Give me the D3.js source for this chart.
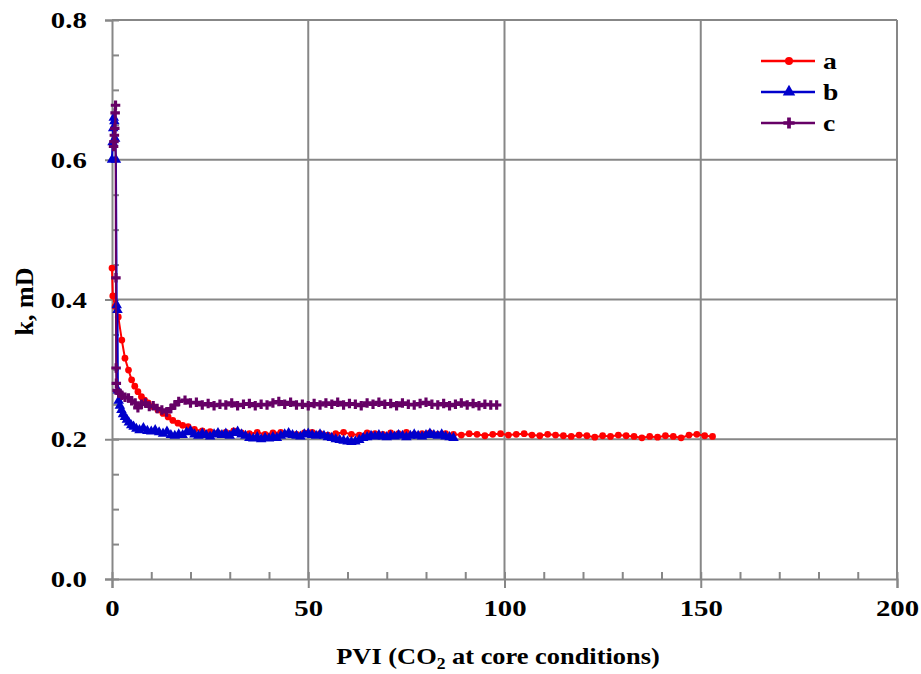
<!DOCTYPE html>
<html>
<head>
<meta charset="utf-8">
<script src="https://cdn.jsdelivr.net/npm/d3@7"></script>
<style>
  html, body { margin: 0; padding: 0; background: #ffffff; }
  svg { display: block; }
</style>
</head>
<body>
<svg id="chart" width="921" height="674"></svg>
<script>
// series data: [PVI, k (mD)]
const seriesA = [
  [0, 0.445], [0.2, 0.405], [0.8, 0.39], [1.6, 0.375], [2.5, 0.342], [3.3, 0.316], [4.2, 0.299],
  [5, 0.285], [5.8, 0.276], [6.6, 0.268], [7.5, 0.261], [8.3, 0.256], [9.2, 0.252], [10.4, 0.247],
  [11.7, 0.242], [13, 0.237], [14.3, 0.232], [15.5, 0.227], [16.8, 0.223], [18, 0.220], [19.4, 0.218],
  [21, 0.214], [23, 0.212], [25, 0.211], [27, 0.209], [29, 0.210], [31, 0.212], [33, 0.209],
  [35, 0.208], [37, 0.210], [39, 0.207], [41, 0.209], [43, 0.210], [45, 0.208], [47, 0.207],
  [49, 0.209], [51, 0.210], [53, 0.208], [55, 0.206], [57, 0.208], [59, 0.210], [61, 0.207],
  [63, 0.206], [65, 0.209], [67, 0.208], [69, 0.207], [71, 0.209], [73, 0.208], [75, 0.210],
  [77, 0.207], [79, 0.208], [81, 0.209], [83, 0.207], [85, 0.208], [87, 0.207], [89, 0.206],
  [91, 0.208], [93, 0.207], [95, 0.205], [97, 0.207], [99, 0.208], [101, 0.206], [103, 0.207],
  [105, 0.208], [107, 0.206], [109, 0.205], [111, 0.207], [113, 0.206], [115, 0.205], [117, 0.204],
  [119, 0.206], [121, 0.205], [123, 0.203], [125, 0.205], [127, 0.204], [129, 0.206], [131, 0.205],
  [133, 0.204], [135, 0.202], [137, 0.204], [139, 0.203], [141, 0.205], [143, 0.204], [145, 0.202],
  [147, 0.206], [149, 0.207], [151, 0.205], [153, 0.204]
];
const seriesB = [
  [0, 0.6], [0.15, 0.625], [0.3, 0.645], [0.45, 0.66], [0.6, 0.655], [0.8, 0.63], [1.0, 0.6],
  [1.2, 0.392], [1.4, 0.385], [1.5, 0.27], [1.7, 0.255], [2.0, 0.248], [2.4, 0.242], [2.8, 0.236],
  [3.3, 0.232], [3.8, 0.228], [4.3, 0.224], [4.9, 0.22], [5.5, 0.218], [6.2, 0.215], [7, 0.213],
  [8, 0.216], [9, 0.212], [10, 0.211], [11, 0.213], [12, 0.21], [13, 0.208], [14, 0.211],
  [15, 0.206], [16, 0.205], [17, 0.207], [18, 0.206], [19, 0.21], [20, 0.212], [21, 0.207],
  [22, 0.205], [23, 0.208], [24, 0.206], [25, 0.204], [26, 0.207], [27, 0.209], [28, 0.206],
  [29, 0.208], [30, 0.205], [31, 0.209], [32, 0.211], [33, 0.207], [34, 0.205], [35, 0.202],
  [36, 0.201], [37, 0.203], [38, 0.200], [39, 0.202], [40, 0.201], [41, 0.203], [42, 0.202],
  [43, 0.205], [44, 0.207], [45, 0.209], [46, 0.206], [47, 0.205], [48, 0.204], [49, 0.207],
  [50, 0.208], [51, 0.206], [52, 0.205], [53, 0.207], [54, 0.205], [55, 0.203], [56, 0.202],
  [57, 0.200], [58, 0.199], [59, 0.198], [60, 0.197], [61, 0.196], [62, 0.197], [63, 0.199],
  [64, 0.202], [65, 0.203], [66, 0.205], [67, 0.204], [68, 0.206], [69, 0.204], [70, 0.203],
  [71, 0.205], [72, 0.204], [73, 0.206], [74, 0.205], [75, 0.203], [76, 0.205], [77, 0.207],
  [78, 0.205], [79, 0.204], [80, 0.206], [81, 0.208], [82, 0.206], [83, 0.205], [84, 0.207],
  [85, 0.204], [86, 0.203], [87, 0.202]
];
const seriesC = [
  [0.4, 0.619], [0.5, 0.626], [0.6, 0.635], [0.7, 0.645], [0.8, 0.667], [0.9, 0.678], [1.0, 0.431],
  [1.05, 0.302], [1.1, 0.28], [1.3, 0.27], [1.8, 0.266], [2.5, 0.263], [3.3, 0.26], [4.2, 0.259],
  [5.0, 0.255], [5.9, 0.252], [6.6, 0.245], [7.5, 0.25], [8.5, 0.252], [9.5, 0.247], [10.5, 0.248],
  [11.5, 0.244], [12.7, 0.242], [13.9, 0.239], [15, 0.244], [16, 0.249], [17, 0.254], [18.6, 0.256],
  [20, 0.252], [21.5, 0.253], [23, 0.249], [24.5, 0.251], [26, 0.248], [27.5, 0.25], [29, 0.249],
  [30.5, 0.252], [32, 0.248], [33.5, 0.25], [35, 0.251], [36.5, 0.248], [38, 0.25], [39.5, 0.249],
  [41, 0.252], [42.5, 0.254], [44, 0.25], [45.5, 0.253], [47, 0.249], [48.5, 0.25], [50, 0.248],
  [51.5, 0.251], [53, 0.249], [54.5, 0.252], [56, 0.25], [57.5, 0.253], [59, 0.249], [60.5, 0.251],
  [62, 0.25], [63.5, 0.248], [65, 0.252], [66.5, 0.25], [68, 0.253], [69.5, 0.25], [71, 0.251],
  [72.5, 0.248], [74, 0.252], [75.5, 0.25], [77, 0.249], [78.5, 0.251], [80, 0.253], [81.5, 0.25],
  [83, 0.249], [84.5, 0.251], [86, 0.248], [87.5, 0.25], [89, 0.252], [90.5, 0.249], [92, 0.251],
  [93.5, 0.248], [95, 0.25], [96.5, 0.249], [98, 0.249]
];
const seriesNames = ['a', 'b', 'c'];
const xTicks = [0, 50, 100, 150, 200];
const yTicks = [0.0, 0.2, 0.4, 0.6, 0.8];

const svg = d3.select('#chart');
const width = 921;
const height = 674;
const margin = { top: 20, right: 24, bottom: 95, left: 112 };
const innerW = width - margin.left - margin.right;
const innerH = height - margin.top - margin.bottom;
const gridColor = '#878787';
const serif = 'Liberation Serif';

svg.append('rect').attr('width', width).attr('height', height).attr('fill', '#ffffff');

const x = d3.scaleLinear().domain([0, 200]).range([0, innerW]);
const y = d3.scaleLinear().domain([0, 0.8]).range([innerH, 0]);

const g = svg.append('g').attr('transform', `translate(${margin.left},${margin.top})`);

// gridlines
g.append('g')
  .selectAll('line')
  .data(xTicks.slice(1))
  .join('line')
  .attr('x1', d => x(d)).attr('x2', d => x(d))
  .attr('y1', 0).attr('y2', innerH)
  .attr('stroke', gridColor).attr('stroke-width', 2);

g.append('g')
  .selectAll('line')
  .data(yTicks.slice(1))
  .join('line')
  .attr('x1', 0).attr('x2', innerW)
  .attr('y1', d => y(d)).attr('y2', d => y(d))
  .attr('stroke', gridColor).attr('stroke-width', 2);

// minor ticks point inward
const xAxisMinor = d3.axisTop(x).ticks(20).tickSize(7).tickFormat('');
g.append('g').attr('transform', `translate(0,${innerH})`).call(xAxisMinor)
  .call(a => a.select('.domain').remove())
  .selectAll('line').attr('stroke', gridColor).attr('stroke-width', 2);

const yAxisMinor = d3.axisRight(y).ticks(16).tickSize(7).tickFormat('');
g.append('g').call(yAxisMinor)
  .call(a => a.select('.domain').remove())
  .selectAll('line').attr('stroke', gridColor).attr('stroke-width', 2);

// main axes, major ticks point outward
function styleAxis(a) {
  a.attr('font-family', serif).attr('font-size', 24).attr('font-weight', 'bold');
  a.select('.domain').attr('stroke', gridColor).attr('stroke-width', 2);
  a.selectAll('line').attr('stroke', gridColor).attr('stroke-width', 2);
  a.selectAll('text')
    .attr('fill', '#000')
    .attr('transform', 'scale(1.2,1)');
}

const xAxis = d3.axisBottom(x).tickValues(xTicks).tickSize(9).tickPadding(11).tickFormat(d3.format('d'));
g.append('g').attr('transform', `translate(0,${innerH})`).call(xAxis).call(styleAxis);

const yAxis = d3.axisLeft(y).tickValues(yTicks).tickSize(7).tickPadding(14).tickFormat(d3.format('.1f'));
g.append('g').call(yAxis).call(styleAxis);

// series
const styles = [
  { color: '#ff0000', symbol: d3.symbolCircle, size: 36 },
  { color: '#0000cc', symbol: d3.symbolTriangle, size: 48 },
  { color: '#660066', symbol: d3.symbolCross, size: 50 }
];
const allSeries = [seriesA, seriesB, seriesC];

const line = d3.line().x(d => x(d[0])).y(d => y(d[1]));

allSeries.forEach((data, i) => {
  const s = styles[i];
  const sg = g.append('g');
  sg.append('path')
    .datum(data)
    .attr('d', line)
    .attr('fill', 'none')
    .attr('stroke', s.color)
    .attr('stroke-width', 2);
  sg.selectAll('path.pt')
    .data(data)
    .join('path')
    .attr('class', 'pt')
    .attr('transform', d => `translate(${x(d[0])},${y(d[1])})`)
    .attr('d', d3.symbol().type(s.symbol).size(s.size))
    .attr('fill', s.color);
});

// legend
const legend = svg.append('g').attr('transform', 'translate(761,61)')
  .attr('font-family', serif).attr('font-size', 24).attr('font-weight', 'bold');
seriesNames.forEach((name, i) => {
  const s = styles[i];
  const row = legend.append('g').attr('transform', `translate(0,${i * 31})`);
  row.append('line').attr('x1', 0).attr('x2', 54).attr('y1', 0).attr('y2', 0)
    .attr('stroke', s.color).attr('stroke-width', 2.5);
  row.append('path').attr('transform', 'translate(28,0)')
    .attr('d', d3.symbol().type(s.symbol).size(s.size * 1.4))
    .attr('fill', s.color);
  row.append('text')
    .attr('transform', 'translate(62,0) scale(1.15,1)')
    .attr('dy', '0.32em')
    .text(name);
});

// axis titles
const xTitle = svg.append('text')
  .attr('transform', 'translate(498,664) scale(1.1,1)')
  .attr('text-anchor', 'middle')
  .attr('font-family', serif).attr('font-weight', 'bold')
  .attr('font-size', 24);
xTitle.append('tspan').text('PVI (CO');
xTitle.append('tspan').attr('dy', 5).attr('font-size', 16).text('2');
xTitle.append('tspan').attr('dy', -5).text(' at core conditions)');

svg.append('text')
  .attr('transform', `translate(33,${margin.top + innerH / 2 + 2}) rotate(-90)`)
  .attr('text-anchor', 'middle')
  .attr('font-family', serif).attr('font-weight', 'bold')
  .attr('font-size', 26)
  .text('k, mD');
</script>
</body>
</html>
